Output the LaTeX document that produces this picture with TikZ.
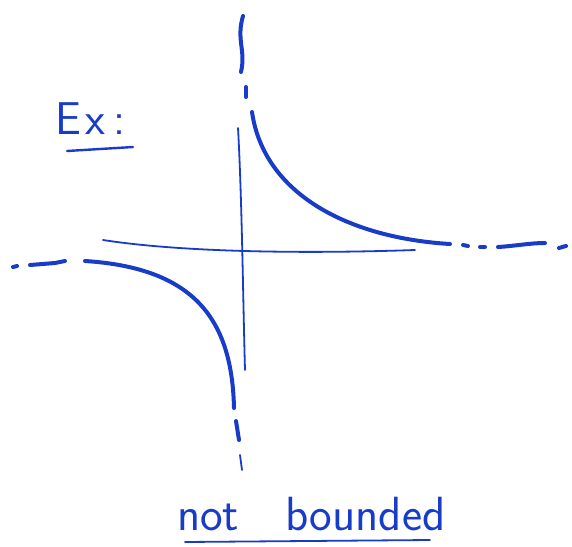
\documentclass[tikz,border=0pt]{standalone}
\usetikzlibrary{positioning}
\definecolor{ink}{RGB}{25,60,200}
\tikzset{
    branch/.style={draw=ink, line width=4pt, line cap=round, line join=round},
    axisline/.style={draw=ink, line width=1.8pt, line cap=round},
    dashpart/.style={draw=ink, line width=4pt, line cap=round},
    handtext/.style={text=ink, font=\sffamily, inner sep=0pt}
}

\begin{document}
\begin{tikzpicture}[x=1pt, y=-1pt]
    \useasboundingbox (0,0) rectangle (572,546);
    \node[handtext, font=\sffamily\fontsize{46}{46}\selectfont, anchor=base west] (ex) at (55,134) {E\hspace{5pt}x\hspace{8pt}:};
    \draw[axisline, line width=2.4pt] (67,151) -- (133,147);
    \draw[axisline] (238,128) .. controls (242,200) and (243,300) .. (245,370);
    \draw[axisline] (103,240) .. controls (180,252) and (300,254) .. (415,250);
    \draw[branch] (252,112) .. controls (264,195) and (350,238) .. (450,244);
    \draw[branch] (85,261) .. controls (195,268) and (232,320) .. (234,408);
    \draw[dashpart] (243,16) .. controls (236,40) and (246,50) .. (241,72);
    \draw[dashpart] (246,87) -- (246,97);
    \draw[dashpart] (463,245) -- (468,246);
    \draw[dashpart] (480,247) -- (485,247);
    \draw[dashpart] (498,247) .. controls (515,246) and (530,243) .. (545,243);
    \draw[dashpart] (559,248) -- (566,246);
    \draw[dashpart] (13,267) -- (17,266);
    \draw[dashpart] (30,265) -- (55,263) -- (65,261);
    \draw[dashpart] (236,421) -- (239,440);
    \draw[axisline] (240,455) -- (242,470);
    \node[handtext, font=\sffamily\fontsize{48}{48}\selectfont, anchor=base west] (nb) at (177,530) {not\hspace{46pt}bounded};
    \draw[axisline] (185,542) -- (430,540);
\end{tikzpicture}
\end{document}
